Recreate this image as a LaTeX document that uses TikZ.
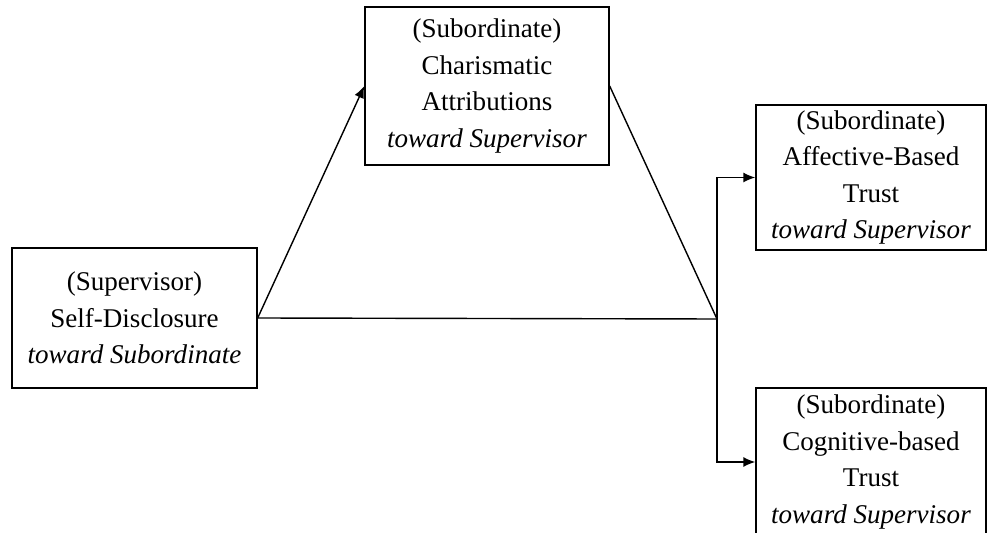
\documentclass[tikz,border=0pt]{standalone}
\usepackage{fontspec}
\setmainfont{Liberation Serif}
\usetikzlibrary{arrows.meta, positioning}

\begin{document}
\begin{tikzpicture}[x=0.02cm, y=-0.02cm, line width=0.8pt,
  >={Latex[length=0.24cm, width=0.2cm]},
  var/.style={draw, align=center, inner sep=0pt, font=\fontsize{15.4}{20.8}\selectfont}]
\useasboundingbox (0,0) rectangle (988,533);

% nodes
\node[var, minimum width=4.9cm, minimum height=2.8cm] (SD) at (134.5, 318)
  {(Supervisor)\\Self-Disclosure\\\textit{toward Subordinate}};
\node[var, minimum width=4.88cm, minimum height=3.16cm] (CA) at (487, 86)
  {(Subordinate)\\Charismatic\\Attributions\\\textit{toward Supervisor}};
\node[var, minimum width=4.6cm, minimum height=2.9cm] (AT) at (871, 177.5)
  {(Subordinate)\\Affective-Based\\Trust\\\textit{toward Supervisor}};
\node[var, minimum width=4.6cm, minimum height=2.96cm] (CT) at (871, 462)
  {(Subordinate)\\Cognitive-based\\Trust\\\textit{toward Supervisor}};

\coordinate (J) at (717, 319);

% arrows
\draw [->] (SD.east) -- (CA.west);
\draw (SD.east) -- (J);
\draw (CA.east) -- (J);

\draw [->] (J) |- (AT.west);
\draw [->] (J) |- (CT.west);

\end{tikzpicture}
\end{document}
